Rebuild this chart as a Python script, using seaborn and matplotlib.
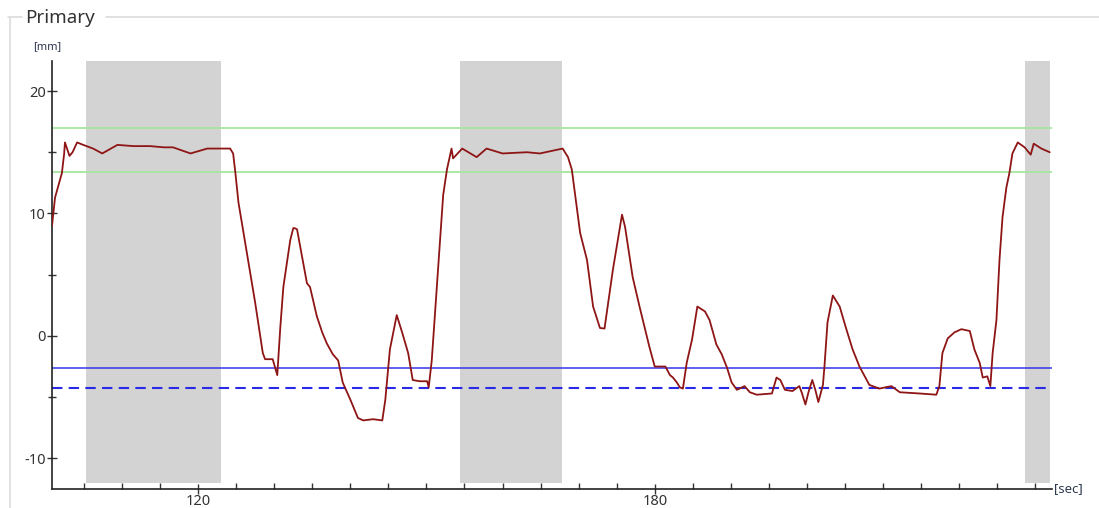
import numpy as np
import pandas as pd
import seaborn as sns
import matplotlib.pyplot as plt
from matplotlib.lines import Line2D
from matplotlib.ticker import MultipleLocator, FixedLocator

# trace, time in sec, stroke in mm
time_s = [
    100.8, 101.2, 102.1, 102.4, 102.5, 103.1, 103.5, 104.1, 104.9, 106.2,
    107.4, 109.4, 111.5, 113.7, 115.5, 116.7, 119.0, 121.2, 124.2, 124.6,
    124.9, 125.3, 126.4, 127.5, 128.5, 128.8, 129.8, 130.4, 130.8, 131.2,
    132.1, 132.5, 132.7, 133.0, 134.3, 134.7, 135.6, 136.3, 136.9, 137.7,
    138.4, 139.0, 140.0, 141.0, 141.7, 143.0, 144.2, 144.6, 145.2, 146.1,
    146.8, 147.6, 148.2, 149.1, 150.1, 150.3, 150.7, 151.4, 152.2, 152.7,
    153.3, 153.5, 154.7, 156.6, 157.9, 160.0, 163.2, 164.9, 167.9, 168.6,
    169.1, 170.2, 171.1, 171.9, 172.8, 173.4, 174.5, 175.7, 176.1, 177.1,
    178.0, 179.3, 180.0, 180.7, 181.4, 182.0, 182.4, 182.9, 183.3, 183.7,
    184.2, 184.9, 185.6, 186.6, 187.2, 188.1, 188.8, 189.5, 190.1, 190.8,
    191.8, 192.5, 193.4, 195.4, 196.0, 196.5, 197.1, 198.1, 199.0, 199.3,
    199.8, 200.2, 200.7, 201.1, 201.5, 202.1, 202.3, 202.7, 203.4, 204.3,
    205.2, 206.0, 206.9, 208.2, 209.5, 211.1, 212.2, 214.8, 217.0, 217.4,
    217.8, 218.5, 219.4, 220.3, 221.4, 222.0, 222.7, 223.1, 223.7, 224.1,
    224.4, 224.9, 225.3, 225.7, 226.2, 226.6, 227.0, 227.7, 228.6, 229.4,
    229.8, 230.8, 231.9,
]
primary_mm = [
    9.0, 11.3, 13.3, 14.9, 15.8, 14.7, 15.0, 15.8, 15.6, 15.3,
    14.9, 15.6, 15.5, 15.5, 15.4, 15.4, 14.9, 15.3, 15.3, 14.9,
    13.3, 10.9, 6.8, 2.7, -1.4, -1.9, -1.9, -3.2, 0.7, 4.0,
    7.8, 8.8, 8.8, 8.7, 4.3, 4.0, 1.6, 0.3, -0.6, -1.5,
    -2.0, -3.8, -5.2, -6.7, -6.9, -6.8, -6.9, -5.2, -1.1, 1.7,
    0.3, -1.4, -3.6, -3.7, -3.7, -4.2, -2.0, 4.3, 11.5, 13.6,
    15.3, 14.5, 15.3, 14.6, 15.3, 14.9, 15.0, 14.9, 15.3, 14.6,
    13.6, 8.4, 6.2, 2.4, 0.65, 0.6, 5.4, 9.9, 8.9, 4.8,
    2.4, -0.9, -2.5, -2.5, -2.5, -3.2, -3.4, -3.8, -4.2, -4.3,
    -2.2, -0.3, 2.4, 2.0, 1.3, -0.7, -1.5, -2.6, -3.8, -4.4,
    -4.1, -4.6, -4.8, -4.7, -3.4, -3.6, -4.4, -4.5, -4.1, -4.6,
    -5.6, -4.6, -3.6, -4.4, -5.4, -4.0, -2.5, 1.1, 3.3, 2.4,
    0.5, -1.1, -2.5, -4.0, -4.3, -4.1, -4.6, -4.7, -4.8, -4.1,
    -1.4, -0.2, 0.3, 0.55, 0.4, -1.1, -2.2, -3.4, -3.3, -4.1,
    -1.4, 1.3, 6.2, 9.7, 12.1, 13.3, 14.9, 15.8, 15.4, 14.8,
    15.7, 15.3, 15.0,
]

# shaded windows (sec)
band_start = [105.3, 154.4, 228.6]
band_end = [123.0, 167.8, 232.0]

# limit lines (mm)
green_limits = [17.0, 13.4]
blue_solid = -2.6
blue_dashed = -4.25

df = pd.DataFrame({"time": time_s, "primary": primary_mm})

sns.set_style("ticks")
plt.rcParams["font.family"] = ["Noto Sans", "DejaVu Sans"]
plt.rcParams["axes.unicode_minus"] = False

fig = plt.figure(figsize=(10.99, 5.08), dpi=100)
ax = fig.add_axes([52 / 1099, 19 / 508, 1000 / 1099, 428 / 508])

for s, e in zip(band_start, band_end):
    ax.axvspan(s, e, ymin=0.014, ymax=1.0, color="#d3d3d3", lw=0, zorder=0)

for g in green_limits:
    ax.axhline(g, color="#a6e6a0", lw=1.3, zorder=1)
ax.axhline(blue_solid, color="#3434ec", lw=1.1, zorder=1)
ax.axhline(blue_dashed, color="#2a2ae6", lw=1.5, ls=(0, (5, 3)), zorder=1)

sns.lineplot(data=df, x="time", y="primary", color="#8e1515", lw=1.3,
             ax=ax, zorder=3)

ax.set_xlim(100.8, 232.2)
ax.set_ylim(-12.5, 22.45)
ax.set_xlabel("")
ax.set_ylabel("")

ax.xaxis.set_major_locator(FixedLocator([120, 180]))
ax.xaxis.set_minor_locator(MultipleLocator(5))
ax.yaxis.set_major_locator(MultipleLocator(10))
ax.yaxis.set_minor_locator(MultipleLocator(5))
ax.tick_params(axis="both", which="both", colors="#333333", labelsize=10.5,
               width=1, bottom=True, left=True)
ax.tick_params(axis="x", which="major", direction="inout", length=7, pad=0)
ax.tick_params(axis="x", which="minor", direction="in", length=4)
ax.tick_params(axis="y", which="major", direction="inout", length=7, pad=1)
ax.tick_params(axis="y", which="minor", direction="inout", length=6)

sns.despine(ax=ax)
for side in ["left", "bottom"]:
    ax.spines[side].set_color("#222222")
    ax.spines[side].set_linewidth(1.2)

# group box frame with title
frame_kw = dict(color="#dcdcdc", lw=1.2, transform=fig.transFigure)
fig.add_artist(Line2D([8 / 1099, 22 / 1099], [1 - 17 / 508] * 2, **frame_kw))
fig.add_artist(Line2D([106 / 1099, 1.0], [1 - 17 / 508] * 2, **frame_kw))
fig.add_artist(Line2D([10 / 1099] * 2, [0, 1 - 17 / 508], **frame_kw))
fig.text(25 / 1099, 1 - 18 / 508, "Primary", fontsize=13.5, color="#333333",
         va="center", ha="left")
fig.text(33 / 1099, 1 - 47 / 508, "[mm]", fontsize=8, color="#2e3550",
         va="center", ha="left")
fig.text(1054 / 1099, 19 / 508, "[sec]", fontsize=9.5, color="#2e3a4e",
         va="center", ha="left")

fig.savefig("out.png", dpi=100, facecolor="white")
